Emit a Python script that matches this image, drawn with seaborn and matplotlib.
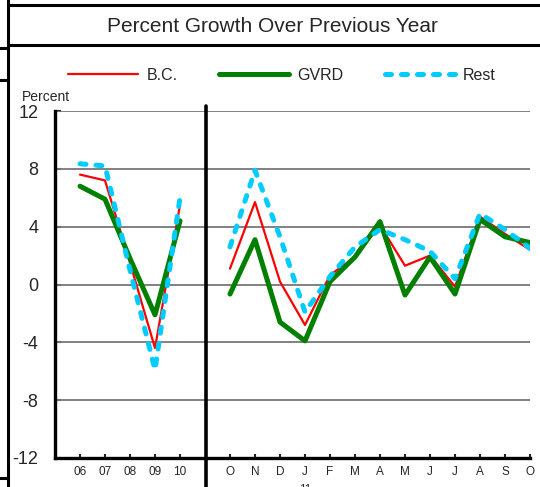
import numpy as np
import pandas as pd
import matplotlib
matplotlib.use("Agg")
import matplotlib.pyplot as plt
from matplotlib.lines import Line2D
import seaborn as sns

# data
years = ['06', '07', '08', '09', '10']
months = ['O', 'N', 'D', 'J', 'F', 'M', 'A', 'M', 'J', 'J', 'A', 'S', 'O']

bc_years = [7.6, 7.2, 1.5, -4.4, 5.5]
gvrd_years = [6.8, 5.9, 1.8, -2.1, 4.4]
rest_years = [8.35, 8.2, 1.0, -5.9, 6.0]

bc_months = [1.1, 5.7, 0.2, -2.8, 0.65, 1.9, 4.1, 1.3, 2.0, -0.15, 4.7, 3.5, 2.4]
gvrd_months = [-0.66, 3.1, -2.6, -3.9, 0.2, 1.9, 4.35, -0.73, 1.9, -0.66, 4.5, 3.3, 2.9]
rest_months = [2.6, 7.9, 3.3, -1.9, 0.55, 2.6, 3.8, 3.1, 2.3, 0.4, 4.9, 3.8, 2.5]

sns.set_style("white")
plt.rcParams['font.family'] = ['Liberation Sans', 'DejaVu Sans']

W, H = 540, 487
fig = plt.figure(figsize=(W / 100, H / 100), dpi=100)
ax = fig.add_axes([55 / W, (H - 458) / H, 475 / W, 347 / H])

x_years = np.arange(len(years))
x_months = np.arange(len(months)) + len(years) + 1

series = [
    ('B.C.', bc_years, bc_months, dict(color='#FF0000', lw=1.6)),
    ('GVRD', gvrd_years, gvrd_months, dict(color='#008000', lw=3.6)),
    ('Rest', rest_years, rest_months,
     dict(color='#00CCFF', lw=3.6, linestyle=(0, (1.2, 2.0)),
          dash_capstyle='round')),
]

handles = []
for name, yv, mv, style in series:
    sns.lineplot(x=x_years, y=yv, ax=ax, zorder=3, **style)
    sns.lineplot(x=x_months, y=mv, ax=ax, zorder=3, **style)
    handles.append(Line2D([], [], label=name, **style))

ax.set_xlim(-1, x_months[-1])
ax.set_ylim(-12, 12)
ax.set_yticks(np.arange(-12, 13, 4))
ax.set_yticklabels([str(v) for v in range(-12, 13, 4)], fontsize=13)
ax.set_xticks(list(x_years) + list(x_months))
ax.set_xticklabels(years + months, fontsize=8.5)
ax.tick_params(axis='y', direction='in', length=4, width=1.5, pad=12,
               left=True)
ax.tick_params(axis='x', direction='in', length=3, width=1.5, pad=6,
               bottom=True)
for v in range(-8, 13, 4):
    ax.axhline(v, color='#777777', lw=1.3, zorder=1)

sns.despine(ax=ax)
ax.spines['left'].set_linewidth(2.4)
ax.spines['bottom'].set_linewidth(2.4)
ax.spines['left'].set_color('black')
ax.spines['bottom'].set_color('black')

# divider between years and months
ax.axvline(len(years) + 0.05, ymin=-0.084, ymax=1.015, color='black',
           lw=2.6, clip_on=False, zorder=4)

ax.set_xlabel('')
ax.set_ylabel('')
fig.text(22 / W, 1 - 97 / H, 'Percent', fontsize=10, ha='left',
         va='center')
fig.text(ax.transData.transform((x_months[3], 0))[0] / W, 1 - 484 / H,
         '11', fontsize=8.5, ha='center', va='top')

fig.text(272 / W, 1 - 27 / H, 'Percent Growth Over Previous Year',
         fontsize=15, ha='center', va='center')

fig.legend(handles=handles, loc='center', ncol=3,
           bbox_to_anchor=(282 / W, 1 - 75 / H), frameon=False,
           fontsize=11.5, handlelength=4.4, handletextpad=0.5,
           columnspacing=2.6)

# frame pieces around the chart
frame = [
    ((8, 8), (0, H)),
    ((8, W), (5, 5)),
    ((8, W), (45, 45)),
    ((0, 8), (48, 48)),
    ((0, 8), (80, 80)),
    ((0, 8), (478, 478)),
]
for xs, ys in frame:
    fig.add_artist(Line2D([x / W for x in xs], [1 - y / H for y in ys],
                          color='black', lw=2.2))

fig.savefig('out.png', dpi=100)
